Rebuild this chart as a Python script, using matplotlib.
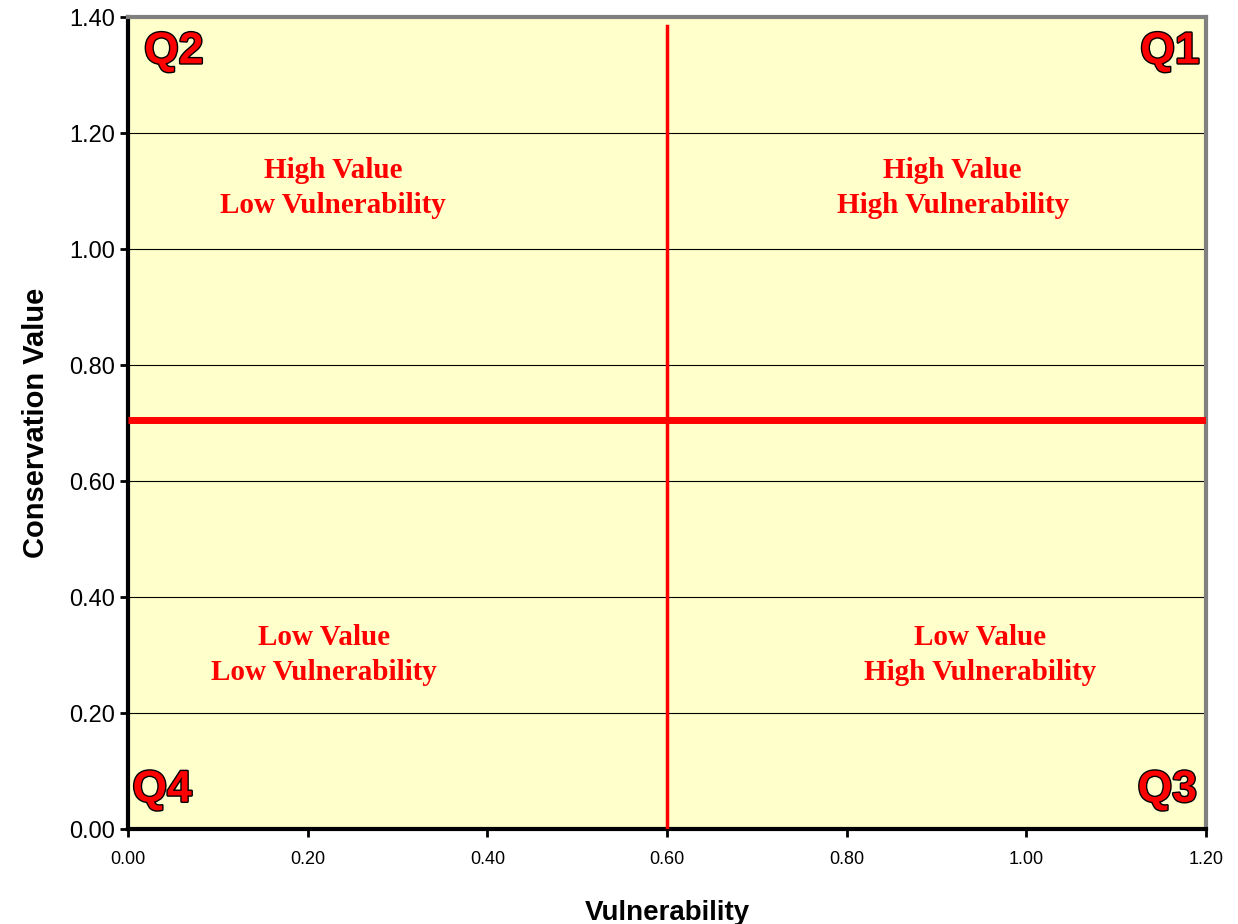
import matplotlib.pyplot as plt
import matplotlib.patheffects as pe
import numpy as np

# quadrant split lines
split_x = [0.60, 0.60]
split_x_y = [0.0, 1.385]
split_y_x = [0.0, 1.2]
split_y = [0.705, 0.705]

# quadrant captions
captions = ['High Value\nLow Vulnerability', 'High Value\nHigh Vulnerability',
            'Low Value\nLow Vulnerability', 'Low Value\nHigh Vulnerability']
caption_x = [0.228, 0.918, 0.218, 0.948]
caption_y = [1.106, 1.106, 0.300, 0.300]

quad_names = ['Q2', 'Q1', 'Q4', 'Q3']
quad_x = [0.018, 1.193, 0.005, 1.19]
quad_y = [1.34, 1.34, 0.067, 0.067]
quad_ha = ['left', 'right', 'left', 'right']

yticks = [0.0, 0.2, 0.4, 0.6, 0.8, 1.0, 1.2, 1.4]
xticks = [0.0, 0.2, 0.4, 0.6, 0.8, 1.0, 1.2]

narrow = ['DejaVu Sans Condensed', 'Liberation Sans']

fig = plt.figure(figsize=(12.38, 9.24), dpi=100)
ax = fig.add_axes([128/1238, 1 - 829/924, (1206-128)/1238, (829-17)/924])
ax.set_facecolor('#FFFFCC')
ax.set_xlim(0, 1.2)
ax.set_ylim(0, 1.4)

for t in yticks[1:-1]:
    ax.axhline(t, color='black', lw=0.8, zorder=1)

ax.plot(split_x, split_x_y, color='#FF0000', lw=2.5, zorder=3)
ax.plot(split_y_x, split_y, color='#FF0000', lw=5, zorder=3, solid_capstyle='butt')

for txt, x, y in zip(captions, caption_x, caption_y):
    ax.text(x, y, txt, color='#FF0000', fontsize=21, fontweight='bold',
            family='Liberation Serif', ha='center', va='center', linespacing=1.38)

for txt, x, y, ha in zip(quad_names, quad_x, quad_y, quad_ha):
    ax.text(x, y, txt, color='#FF0000', fontsize=32, fontweight='bold',
            family=narrow, stretch='condensed', ha=ha, va='center',
            path_effects=[pe.Stroke(linewidth=2, foreground='black'), pe.Normal()])

ax.set_yticks(yticks)
ax.set_yticklabels(['%.2f' % v for v in yticks], fontsize=17, family='Liberation Sans')
ax.set_xticks(xticks)
ax.set_xticklabels(['%.2f' % v for v in xticks], fontsize=13, family='Liberation Sans')
ax.tick_params(axis='both', direction='out', length=6, width=2, color='black')
ax.tick_params(axis='y', pad=3)
ax.tick_params(axis='x', pad=10)

ax.spines['left'].set_linewidth(3)
ax.spines['bottom'].set_linewidth(3)
ax.spines['top'].set_color('#808080')
ax.spines['right'].set_color('#808080')
ax.spines['top'].set_linewidth(3)
ax.spines['right'].set_linewidth(3)

ax.set_ylabel('Conservation Value', fontsize=21, fontweight='bold',
              family=narrow, stretch='condensed', labelpad=14)
ax.set_xlabel('Vulnerability', fontsize=20, fontweight='bold',
              family='Liberation Sans', labelpad=23)

fig.savefig('out.png', dpi=100)
